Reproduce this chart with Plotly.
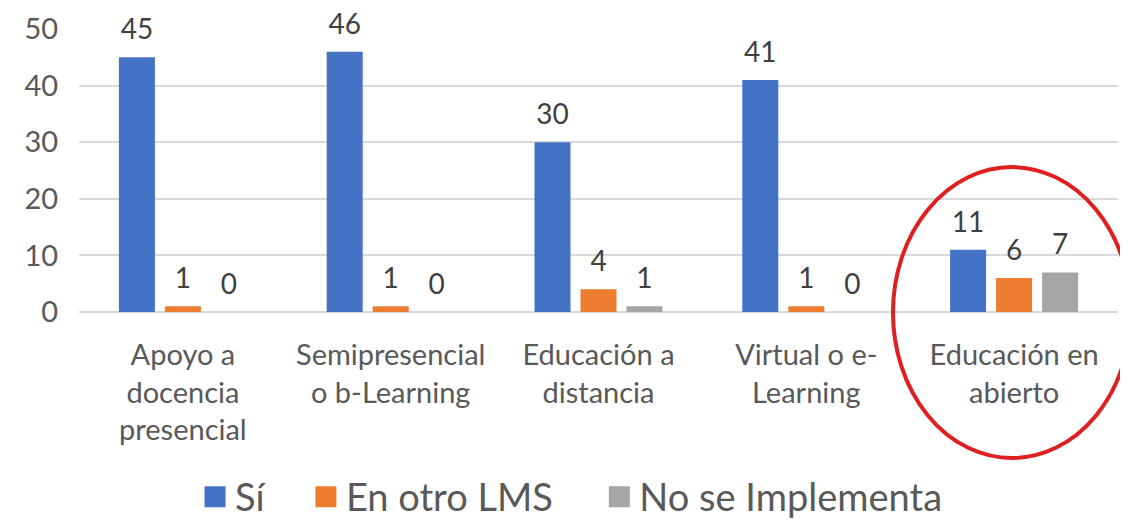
import plotly.graph_objects as go

categories = ["Apoyo a<br>docencia<br>presencial", "Semipresencial<br>o b-Learning",
              "Educación a<br>distancia", "Virtual o e-<br>Learning", "Educación en<br>abierto"]
series_names = ["Sí", "En otro LMS", "No se Implementa"]
si = [45, 46, 30, 41, 11]
otro_lms = [1, 1, 4, 1, 6]
no_impl = [0, 0, 1, 0, 7]
colors = ["#4472C4", "#ED7D31", "#A5A5A5"]
y_ticks = [0, 10, 20, 30, 40, 50]

FONT = "Lato"
# page body has an 8px margin, so the figure is 8px smaller than the window
W, H = 1120, 512
fig = go.Figure()
for name, vals, col in zip(series_names, [si, otro_lms, no_impl], colors):
    fig.add_trace(go.Bar(x=categories, y=vals, name=name, marker_color=col,
                         offsetgroup=name, marker_line_width=0, showlegend=False))
for name, vals in zip(series_names, [si, otro_lms, no_impl]):
    fig.add_trace(go.Scatter(x=categories, y=vals, text=[str(v) for v in vals],
                             mode="markers+text", textposition="top center",
                             marker=dict(size=16, opacity=0), offsetgroup=name,
                             textfont=dict(family=FONT, size=28, color="#404040"),
                             cliponaxis=False, showlegend=False, hoverinfo="skip"))
# legend entries (square swatches), one legend each for exact spacing
legend_ids = ["legend", "legend2", "legend3"]
legend_x = [0.167, 0.266, 0.528]
for name, col, lid in zip(series_names, colors, legend_ids):
    fig.add_trace(go.Scatter(x=[None], y=[None], name=name, mode="markers", legend=lid,
                             marker=dict(symbol="square", size=23, color=col,
                                         line=dict(color=col, width=5))))

fig.add_shape(type="circle", xref="paper", yref="paper",
              x0=0.7834, x1=1.0125, y0=-0.516, y1=0.512,
              line=dict(color="#E02020", width=4))

leg_common = dict(orientation="h", xref="container", xanchor="left", y=0.045,
                  yref="container", yanchor="middle", itemsizing="trace",
                  font=dict(family=FONT, size=38, color="#595959"),
                  bgcolor="rgba(0,0,0,0)")
fig.update_layout(
    width=W, height=H,
    margin=dict(l=71, r=10, t=21, b=208, autoexpand=False),
    paper_bgcolor="white", plot_bgcolor="white",
    barmode="group", bargap=0.336, bargroupgap=0.217,
    scattermode="group", scattergap=0.336,
    font=dict(family=FONT, color="#595959"),
    legend=dict(x=legend_x[0], **leg_common),
    legend2=dict(x=legend_x[1], **leg_common),
    legend3=dict(x=legend_x[2], **leg_common),
    xaxis=dict(range=[-0.5, 4.5], tickfont=dict(family=FONT, size=29, color="#595959"),
               ticks="outside", ticklen=17, tickcolor="rgba(0,0,0,0)",
               showline=False, showgrid=False),
    yaxis=dict(range=[0, 50], tickvals=y_ticks, tickfont=dict(family=FONT, size=29, color="#595959"),
               gridcolor="#D9D9D9", gridwidth=1.5, zeroline=True, zerolinecolor="#D9D9D9",
               zerolinewidth=1.5, ticks="outside", ticklen=14, tickcolor="rgba(0,0,0,0)"),
)
fig.write_html("out.html")
